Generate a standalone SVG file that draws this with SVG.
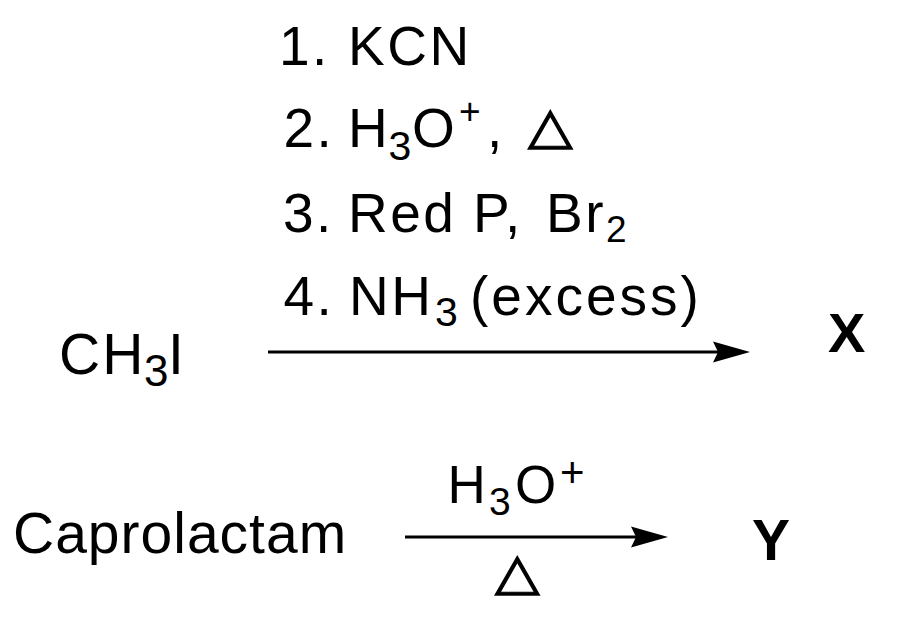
<svg xmlns="http://www.w3.org/2000/svg" width="900" height="636" viewBox="0 0 900 636">
<style>
  text { font-family: "Liberation Sans", Arial, sans-serif; fill: #000; }
  .r { font-size: 55px; letter-spacing: 2.5px; }
  .sub { font-size: 41px; }
  .big { font-size: 57px; letter-spacing: 2px; }
  .bold { font-weight: bold; font-size: 56px; }
  .tri { font-family: "DejaVu Sans", sans-serif; font-size: 58px; stroke: #000; stroke-width: 1.4px; }
  .arrow { stroke: #000; stroke-width: 3; fill: none; marker-end: url(#head); }
</style>
<defs>
  <marker id="head" markerUnits="userSpaceOnUse" markerWidth="50" markerHeight="30" refX="30" refY="12" orient="auto" overflow="visible">
    <path d="M40,12 L3,1.5 L8,12 L3,22.5 Z" fill="#000"/>
  </marker>
</defs>
<rect width="900" height="636" fill="#fff"/>

<g id="connectors">
  <line class="arrow" x1="268" y1="352" x2="740" y2="352"/>
  <line class="arrow" x1="405" y1="537" x2="658" y2="537"/>
</g>

<g id="reagents-1">
  <text class="r" y="65"><tspan x="279">1.</tspan><tspan x="348">KCN</tspan></text>
  <text class="r" y="147"><tspan x="283.5">2.</tspan><tspan x="348">H</tspan><tspan x="388.5" y="160" class="sub">3</tspan><tspan x="412" y="147">O</tspan><tspan x="459" y="124" style="font-size:37px">+</tspan><tspan x="487" y="147">,</tspan></text>
  <text class="tri" transform="translate(528,142.7) scale(1,0.87)">△</text>
  <text class="r" y="232"><tspan x="283">3.</tspan><tspan x="348">Red</tspan><tspan x="473">P,</tspan><tspan x="546">Br</tspan><tspan x="606" y="242" style="font-size:37px">2</tspan></text>
  <text class="r" y="315"><tspan x="283.5">4.</tspan><tspan x="349">NH</tspan><tspan x="435" y="326" class="sub">3</tspan><tspan x="470" y="315" style="letter-spacing:3px">(excess)</tspan></text>
</g>

<g id="reactant-ch3i">
  <text class="big" y="374"><tspan x="59">CH</tspan><tspan x="144" y="386" style="font-size:44px">3</tspan><tspan x="168" y="374">I</tspan></text>
</g>

<g id="product-x">
  <text class="bold" x="828" y="352">X</text>
</g>

<g id="reactant-caprolactam">
  <text class="big" x="13" y="553" style="letter-spacing:1px">Caprolactam</text>
</g>

<g id="reagents-2">
  <text style="font-size:53px" y="503"><tspan x="447.5">H</tspan><tspan x="489" y="515" style="font-size:39px">3</tspan><tspan x="515" y="503">O</tspan><tspan x="560" y="487" style="font-size:42px">+</tspan></text>
  <text class="tri" transform="translate(495,588.7) scale(1,0.87)">△</text>
</g>

<g id="product-y">
  <text class="bold" x="752" y="560" style="font-size:57px">Y</text>
</g>
</svg>
